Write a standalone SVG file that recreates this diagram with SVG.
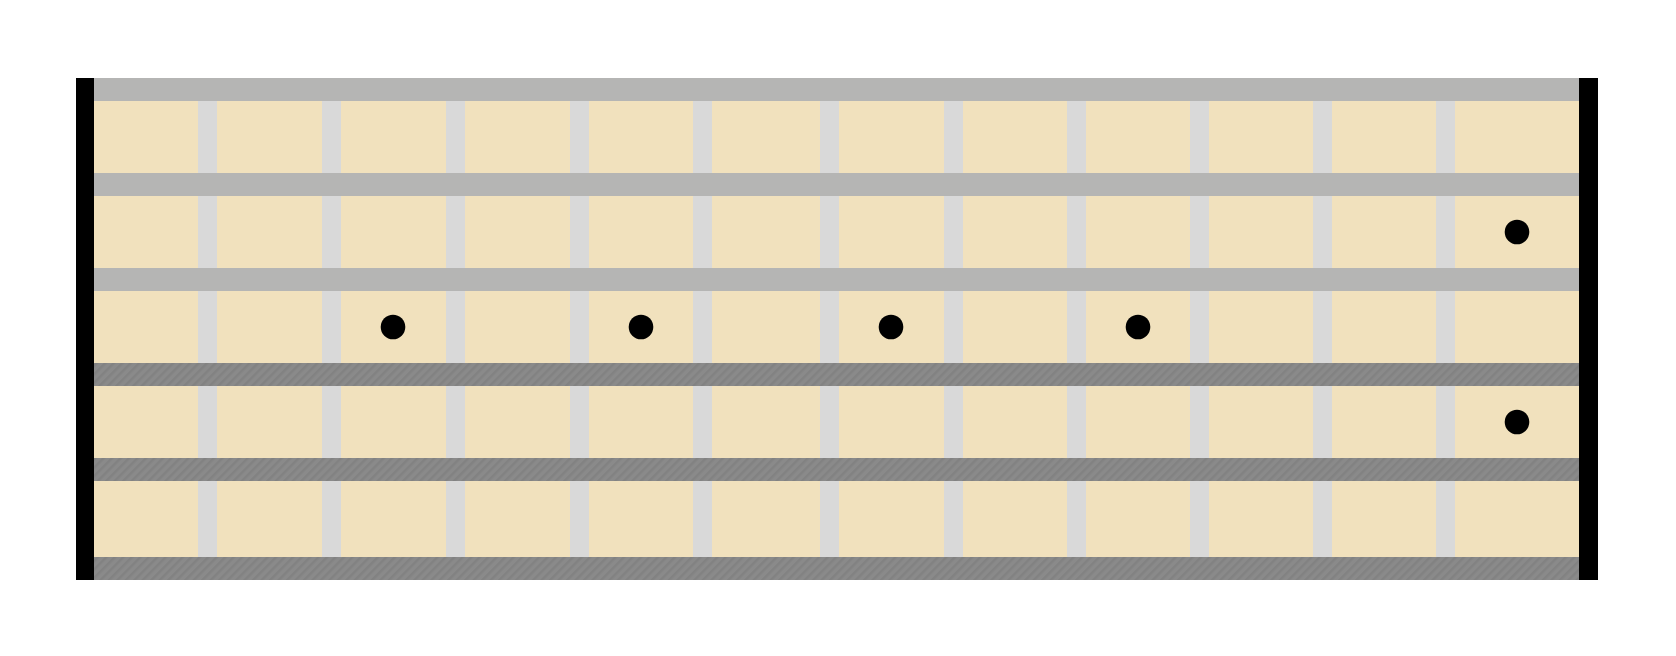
<svg xmlns="http://www.w3.org/2000/svg" width="1676" height="656" viewBox="0 0 1676 656">
  <defs>
    <pattern id="wound" width="6" height="6" patternUnits="userSpaceOnUse" patternTransform="rotate(45)">
      <rect width="6" height="6" fill="#8a8a8a"/>
      <rect width="2.5" height="6" fill="#828282"/>
    </pattern>
    <style>
      .board { fill: #f1e1bd; }
      .nut { fill: #000000; }
      .fret { fill: #d9d9d9; }
      .plain { fill: #b5b5b4; }
      .wound { fill: url(#wound); }
      .dot { fill: #000000; }
    </style>
  </defs>
  <rect width="1676" height="656" fill="#ffffff"/>
  <g id="fretboard">
    <rect class="board" x="94" y="101" width="1485" height="456"/>
  </g>
  <g id="frets">
    <rect class="fret" x="198" y="101" width="19" height="456"/>
    <rect class="fret" x="322" y="101" width="19" height="456"/>
    <rect class="fret" x="446" y="101" width="19" height="456"/>
    <rect class="fret" x="570" y="101" width="19" height="456"/>
    <rect class="fret" x="693" y="101" width="19" height="456"/>
    <rect class="fret" x="820" y="101" width="19" height="456"/>
    <rect class="fret" x="944" y="101" width="19" height="456"/>
    <rect class="fret" x="1067" y="101" width="19" height="456"/>
    <rect class="fret" x="1190" y="101" width="19" height="456"/>
    <rect class="fret" x="1313" y="101" width="19" height="456"/>
    <rect class="fret" x="1436" y="101" width="19" height="456"/>
  </g>
  <g id="strings">
    <rect class="plain" x="94" y="78" width="1485" height="23"/>
    <rect class="plain" x="94" y="173" width="1485" height="23"/>
    <rect class="plain" x="94" y="268" width="1485" height="23"/>
    <rect class="wound" x="94" y="363" width="1485" height="23"/>
    <rect class="wound" x="94" y="458" width="1485" height="23"/>
    <rect class="wound" x="94" y="557" width="1485" height="23"/>
  </g>
  <g id="nut-left">
    <rect class="nut" x="76" y="78" width="18" height="502"/>
  </g>
  <g id="nut-right">
    <rect class="nut" x="1579" y="78" width="19" height="502"/>
  </g>
  <g id="dots">
    <circle class="dot" cx="393" cy="327" r="12.3"/>
    <circle class="dot" cx="641" cy="327" r="12.3"/>
    <circle class="dot" cx="891" cy="327" r="12.3"/>
    <circle class="dot" cx="1138" cy="327" r="12.3"/>
    <circle class="dot" cx="1517" cy="232" r="12.3"/>
    <circle class="dot" cx="1517" cy="422" r="12.3"/>
  </g>
</svg>
